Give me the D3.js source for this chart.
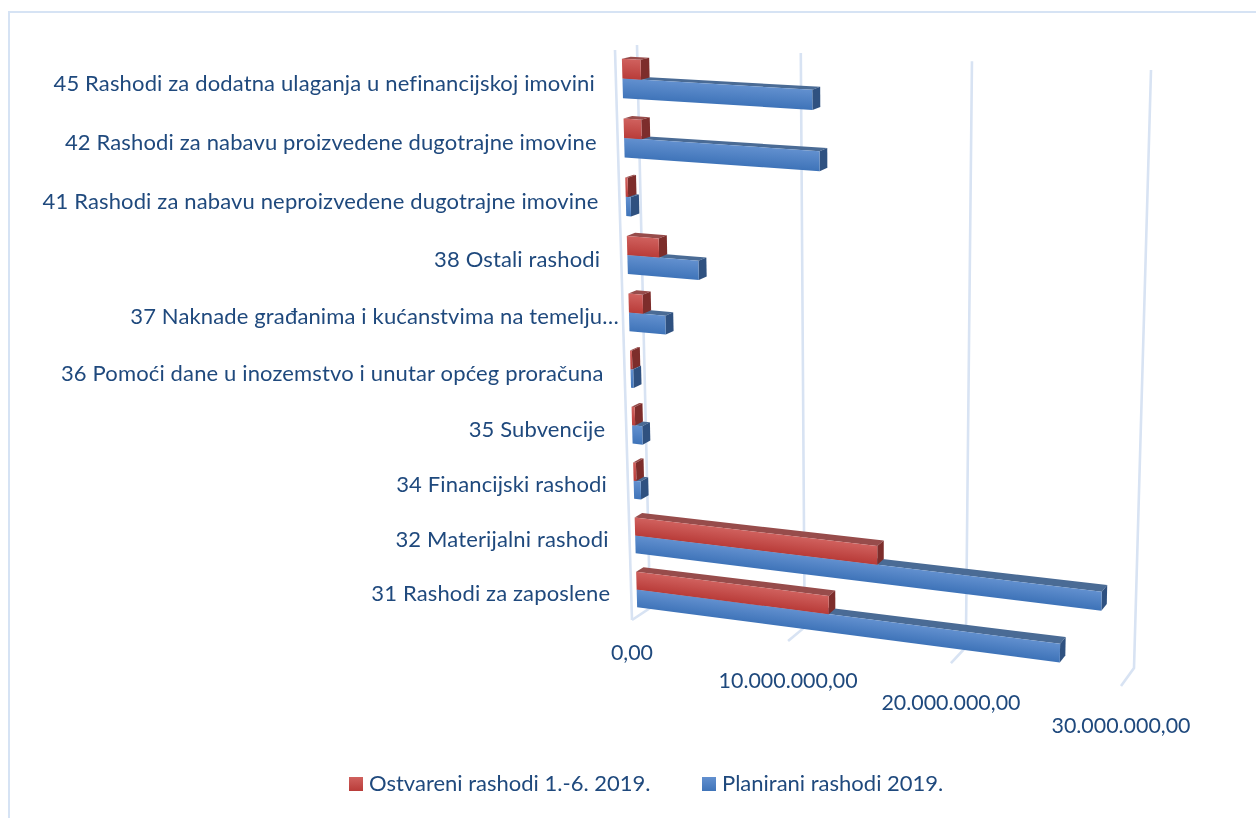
<!DOCTYPE html>
<html><head><meta charset="utf-8">
<script src="https://cdn.jsdelivr.net/npm/d3@7/dist/d3.min.js"></script>
<style>html,body{margin:0;padding:0;background:#fff}svg{display:block}text{font-family:Lato,"Open Sans",sans-serif;fill:#1f497d;filter:blur(0.3px)}</style>
</head><body><svg id="c" width="1256" height="818"></svg>
<script>
const categories=["45 Rashodi za dodatna ulaganja u nefinancijskoj imovini","42 Rashodi za nabavu proizvedene dugotrajne imovine","41 Rashodi za nabavu neproizvedene dugotrajne imovine","38 Ostali rashodi","37 Naknade građanima i kućanstvima na temelju…","36 Pomoći dane u inozemstvo i unutar općeg proračuna","35 Subvencije","34 Financijski rashodi","32 Materijalni rashodi","31 Rashodi za zaposlene"];
const ostvareni=[1150000,1100000,150000,2000000,900000,120000,200000,180000,15250000,12250000];
const planirani=[11500000,11900000,300000,4450000,2300000,170000,650000,450000,28550000,26200000];
const ticks=[0,10000000,20000000,30000000];
const tickLabels=["0,00","10.000.000,00","20.000.000,00","30.000.000,00"];
const seriesNames=["Ostvareni rashodi 1.-6. 2019.","Planirani rashodi 2019."];

const svg=d3.select("#c"),defs=svg.append("defs");
svg.append("path").attr("d","M9,818V12H1256").attr("fill","none").attr("stroke","#d6e3f4").attr("stroke-width",2);

const vScale=d3.scaleLinear().domain([0,30000000]).range([0,1]);
const cBand=d3.scaleBand().domain(categories).range([0,1]).paddingInner(0.34).paddingOuter(0.17);

function homography(q){
  const [[x0,y0],[x1,y1],[x2,y2],[x3,y3]]=q;
  const dx1=x1-x2,dx2=x3-x2,sx=x0-x1+x2-x3,dy1=y1-y2,dy2=y3-y2,sy=y0-y1+y2-y3;
  const den=dx1*dy2-dx2*dy1,g=(sx*dy2-dx2*sy)/den,h=(dx1*sy-sx*dy1)/den;
  const a=x1-x0+g*x1,b=x3-x0+h*x3,d=y1-y0+g*y1,e=y3-y0+h*y3;
  return (u,v)=>{const w=g*u+h*v+1;return [(a*u+b*v+x0)/w,(d*u+e*v+y0)/w];};
}
const back=homography([[637,45],[1151,70],[1134,668],[650,608]]);
const front=homography([[615,50],[1135,80],[1121,686],[632,620]]);
function P(val,c,t){const u=vScale(val),a=back(u,c),b=front(u,c);return [a[0]+(b[0]-a[0])*t,a[1]+(b[1]-a[1])*t];}
const poly=p=>"M"+p.map(q=>q[0].toFixed(2)+","+q[1].toFixed(2)).join("L")+"Z";

const grid=svg.append("g").attr("fill","none").attr("stroke","#d8e3f3").attr("stroke-width",2.6);
grid.selectAll(".w").data(ticks).join("path").attr("d",t=>d3.line()([P(t,0,0),P(t,1,0),P(t,1,1)]));
grid.append("path").attr("d",d3.line()([P(0,0,1),P(0,1,1)]));

const palette={
 red:{hi:"#d0615e",lo:"#b93c39",top:"#974c4b",side:"#7d2d2b"},
 blue:{hi:"#6290cf",lo:"#3f74b9",top:"#4a6b95",side:"#2f5180"}};
const dF=0.7,dB=0.3;
const marks=svg.append("g").attr("style","filter:blur(0.45px)");
let gid=0;
function bar(g,val,c0,c1,col){
  const fTL=P(0,c0,dF),fTR=P(val,c0,dF),fBR=P(val,c1,dF),fBL=P(0,c1,dF),bTL=P(0,c0,dB),bTR=P(val,c0,dB),bBR=P(val,c1,dB);
  g.append("path").attr("d",poly([fTL,bTL,bTR,fTR])).attr("fill",col.top);
  g.append("path").attr("d",poly([fTR,bTR,bBR,fBR])).attr("fill",col.side);
  const ux=fTR[0]-fTL[0],uy=fTR[1]-fTL[1],L=Math.hypot(ux,uy)||1,nx=-uy/L,ny=ux/L,h=(fBL[0]-fTL[0])*nx+(fBL[1]-fTL[1])*ny;
  const id="g"+(gid++);
  const lg=defs.append("linearGradient").attr("id",id).attr("gradientUnits","userSpaceOnUse")
    .attr("x1",fTL[0]).attr("y1",fTL[1]).attr("x2",fTL[0]+nx*h).attr("y2",fTL[1]+ny*h);
  lg.append("stop").attr("offset",0).attr("stop-color",col.hi);
  lg.append("stop").attr("offset",1).attr("stop-color",col.lo);
  g.append("path").attr("d",poly([fTL,fTR,fBR,fBL])).attr("fill","url(#"+id+")");
}
categories.forEach((cat,i)=>{
  const c0=cBand(cat),w=cBand.bandwidth(),g=marks.append("g");
  bar(g,planirani[i],c0+w/2,c0+w,palette.blue);
  bar(g,ostvareni[i],c0,c0+w/2,palette.red);
});

const labOff=d3.scaleLinear().domain([0,1]).range([10.5,8]);
const lab=svg.append("g").attr("font-size",22).attr("letter-spacing",0.14).attr("text-anchor","end");
categories.forEach(cat=>{
  const c=cBand(cat)+cBand.bandwidth()/2,p=P(0,c,1);
  const gap=cat.endsWith("…")?4:21;
  lab.append("text").attr("x",p[0]-gap).attr("y",p[1]+labOff(c)).text(cat);
});
const off=d3.scaleLinear().domain([0,10000000]).range([33,40]).clamp(true);
svg.append("g").attr("font-size",21.4).attr("text-anchor","middle").selectAll("text").data(ticks).join("text")
  .attr("x",t=>P(t,1,1)[0]).attr("y",t=>P(t,1,1)[1]+off(t)+7).text((t,i)=>tickLabels[i]);

const lx=[349,702];
seriesNames.forEach((s,i)=>{
  const col=i?palette.blue:palette.red,id="lg"+i;
  const lg=defs.append("linearGradient").attr("id",id).attr("x1",0).attr("y1",0).attr("x2",0).attr("y2",1);
  lg.append("stop").attr("offset",0).attr("stop-color",col.hi);lg.append("stop").attr("offset",1).attr("stop-color",col.lo);
  svg.append("rect").attr("x",lx[i]).attr("y",777).attr("width",14).attr("height",14).attr("fill","url(#"+id+")");
  svg.append("text").attr("x",lx[i]+20).attr("y",791).attr("font-size",22).text(s);
});
</script></body></html>
